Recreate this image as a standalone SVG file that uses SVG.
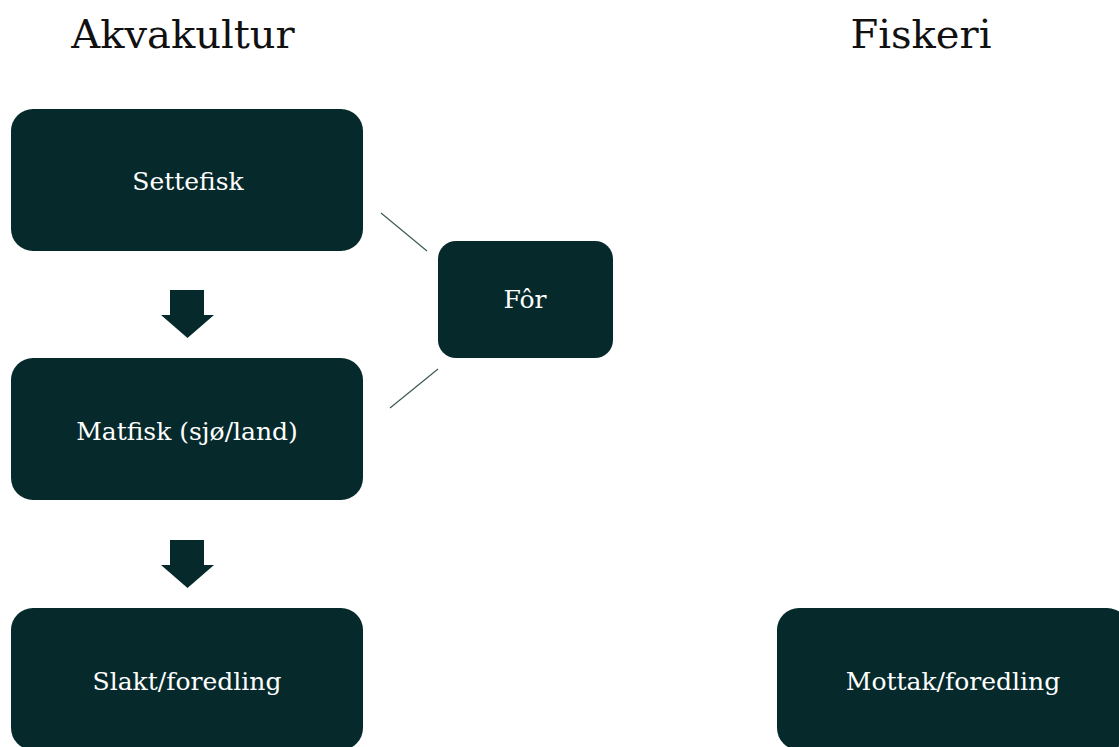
<svg xmlns="http://www.w3.org/2000/svg" width="1119" height="747" viewBox="0 0 1119 747">
<style>
.box{fill:#062a2b;}
.lbl{fill:#ffffff;font-family:"DejaVu Serif","Liberation Serif",serif;font-size:25px;text-anchor:middle;}
.title{fill:#111111;font-family:"DejaVu Serif","Liberation Serif",serif;font-size:40px;text-anchor:middle;}
.conn{stroke:#3d5a57;stroke-width:1.2;fill:none;}
.barrow{fill:#062a2b;}
</style>
<rect width="1119" height="747" fill="#ffffff"/>
<text class="title" x="183" y="48">Akvakultur</text>
<text class="title" x="921" y="48">Fiskeri</text>
<g id="connectors">
<line class="conn" x1="381" y1="213" x2="427" y2="251"/>
<line class="conn" x1="390" y1="408" x2="438" y2="369"/>
<path class="barrow" d="M170,290 H204 V315 H214 L187.5,338 L161,315 H170 Z"/>
<path class="barrow" d="M170,540 H204 V565 H214 L187.5,588 L161,565 H170 Z"/>
</g>
<g id="settefisk">
<rect class="box" x="11" y="109" width="352" height="142" rx="22"/>
<text class="lbl" x="188" y="190">Settefisk</text>
</g>
<g id="matfisk">
<rect class="box" x="11" y="358" width="352" height="142" rx="22"/>
<text class="lbl" x="187" y="440">Matfisk (sjø/land)</text>
</g>
<g id="slakt">
<rect class="box" x="11" y="608" width="352" height="142" rx="22"/>
<text class="lbl" x="187" y="690">Slakt/foredling</text>
</g>
<g id="for">
<rect class="box" x="438" y="241" width="175" height="117" rx="18"/>
<text class="lbl" x="525" y="308">Fôr</text>
</g>
<g id="mottak">
<rect class="box" x="777" y="608" width="352" height="142" rx="22"/>
<text class="lbl" x="953" y="690">Mottak/foredling</text>
</g>
</svg>
